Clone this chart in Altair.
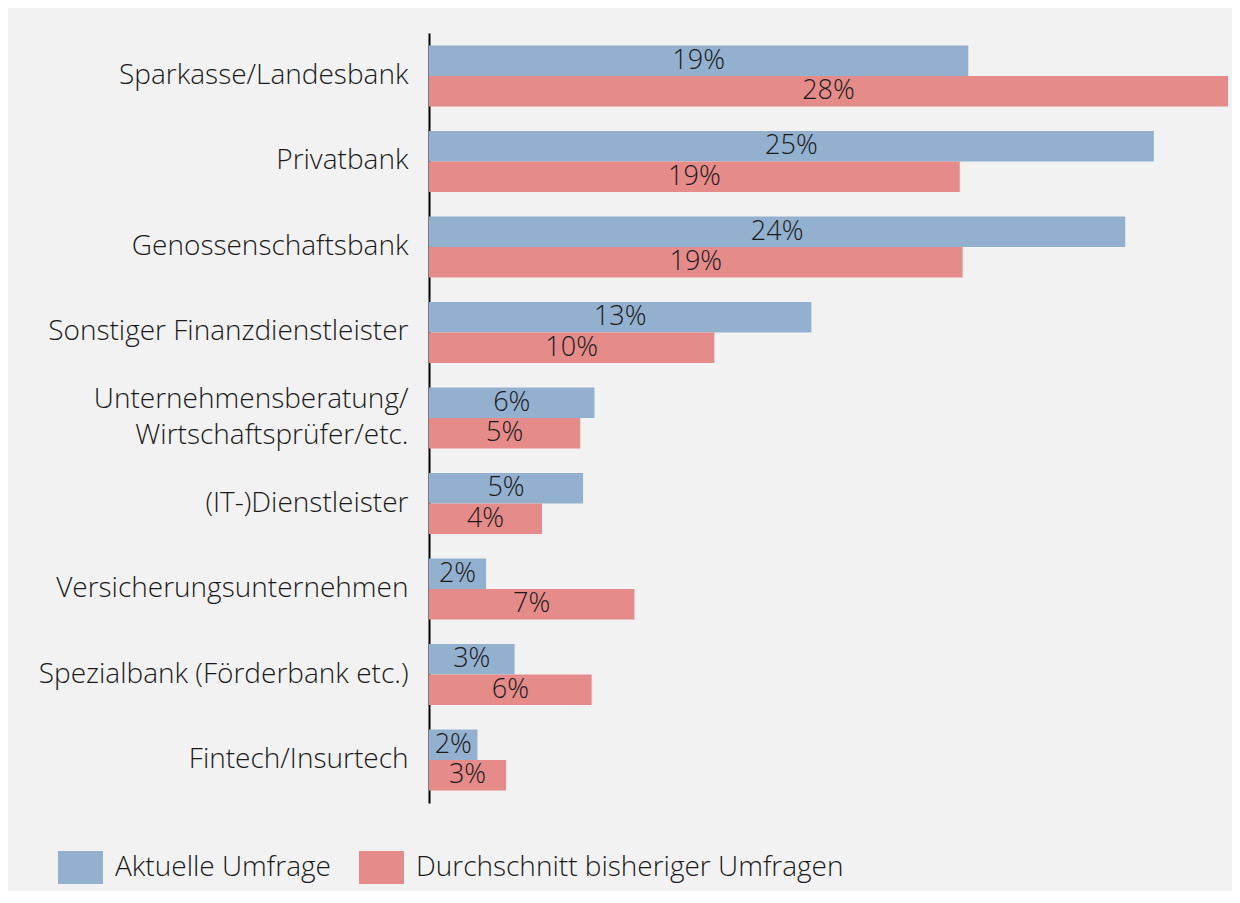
import altair as alt
import pandas as pd

categories = [
    "Sparkasse/Landesbank",
    "Privatbank",
    "Genossenschaftsbank",
    "Sonstiger Finanzdienstleister",
    "Unternehmensberatung/|Wirtschaftsprüfer/etc.",
    "(IT-)Dienstleister",
    "Versicherungsunternehmen",
    "Spezialbank (Förderbank etc.)",
    "Fintech/Insurtech",
]
series = ["Aktuelle Umfrage", "Durchschnitt bisheriger Umfragen"]
aktuell = [18.9, 25.4, 24.4, 13.4, 5.8, 5.4, 2.0, 3.0, 1.7]
durchschnitt = [28.0, 18.6, 18.7, 10.0, 5.3, 3.96, 7.2, 5.7, 2.7]
aktuell_labels = ["19%", "25%", "24%", "13%", "6%", "5%", "2%", "3%", "2%"]
durchschnitt_labels = ["28%", "19%", "19%", "10%", "5%", "4%", "7%", "6%", "3%"]
colors = ["#93b1cf", "#e58c8a"]

rows = []
for i, c in enumerate(categories):
    rows.append({"Kategorie": c, "Serie": series[0], "Wert": aktuell[i], "Label": aktuell_labels[i]})
    rows.append({"Kategorie": c, "Serie": series[1], "Wert": durchschnitt[i], "Label": durchschnitt_labels[i]})
df = pd.DataFrame(rows)

FONT = "Open Sans"
FW = 300
TXT = "#1a1a1a"

base = alt.Chart(df).encode(
    y=alt.Y(
        "Kategorie:N",
        sort=categories,
        scale=alt.Scale(paddingInner=0.287, paddingOuter=0.146),
        axis=alt.Axis(
            title=None,
            labelExpr="split(datum.label, '|')",
            labelFontSize=28,
            labelFont=FONT,
            labelFontWeight=FW,
            labelColor=TXT,
            labelPadding=21,
            labelLineHeight=36,
            labelOffset={"condition": {"test": "indexof(datum.value, '|') >= 0", "value": -18}, "value": 0},
            ticks=False,
            domain=True,
            domainColor="#000000",
            domainWidth=2,
            grid=False,
            labelLimit=500,
        ),
    ),
    yOffset=alt.YOffset("Serie:N", sort=series, scale=alt.Scale(paddingInner=0, paddingOuter=0)),
)

bars = base.mark_bar().encode(
    x=alt.X("Wert:Q", scale=alt.Scale(domain=[0, 28], nice=False, zero=True), axis=None),
    color=alt.Color(
        "Serie:N",
        sort=series,
        scale=alt.Scale(domain=series, range=colors),
        legend=alt.Legend(
            title=None,
            orient="none",
            legendX=-371,
            legendY=812,
            direction="horizontal",
            symbolType="M-1,-0.733H1V0.733H-1Z",
            symbolSize=2025,
            symbolOpacity=1,
            symbolStrokeWidth=0,
            labelFontSize=28,
            labelFont=FONT,
            labelFontWeight=FW,
            labelColor=TXT,
            labelOffset=12,
            columnPadding=28,
            padding=0,
            labelLimit=600,
        ),
    ),
)

text = base.transform_calculate(Mitte="datum.Wert / 2").mark_text(
    fontSize=27, font=FONT, fontWeight=FW, color=TXT, baseline="middle", align="center"
).encode(
    x=alt.X("Mitte:Q", scale=alt.Scale(domain=[0, 28], nice=False), axis=None),
    text="Label:N",
)

chart = alt.layer(bars, text).properties(
    width=799,
    height=770,
    background="#f2f2f2",
    padding={"left": 421, "top": 25, "right": 4, "bottom": 88},
    autosize=alt.AutoSizeParams(type="none"),
).configure_view(stroke=None)

chart.save("out.html", embed_options={"renderer": "svg", "actions": False})
